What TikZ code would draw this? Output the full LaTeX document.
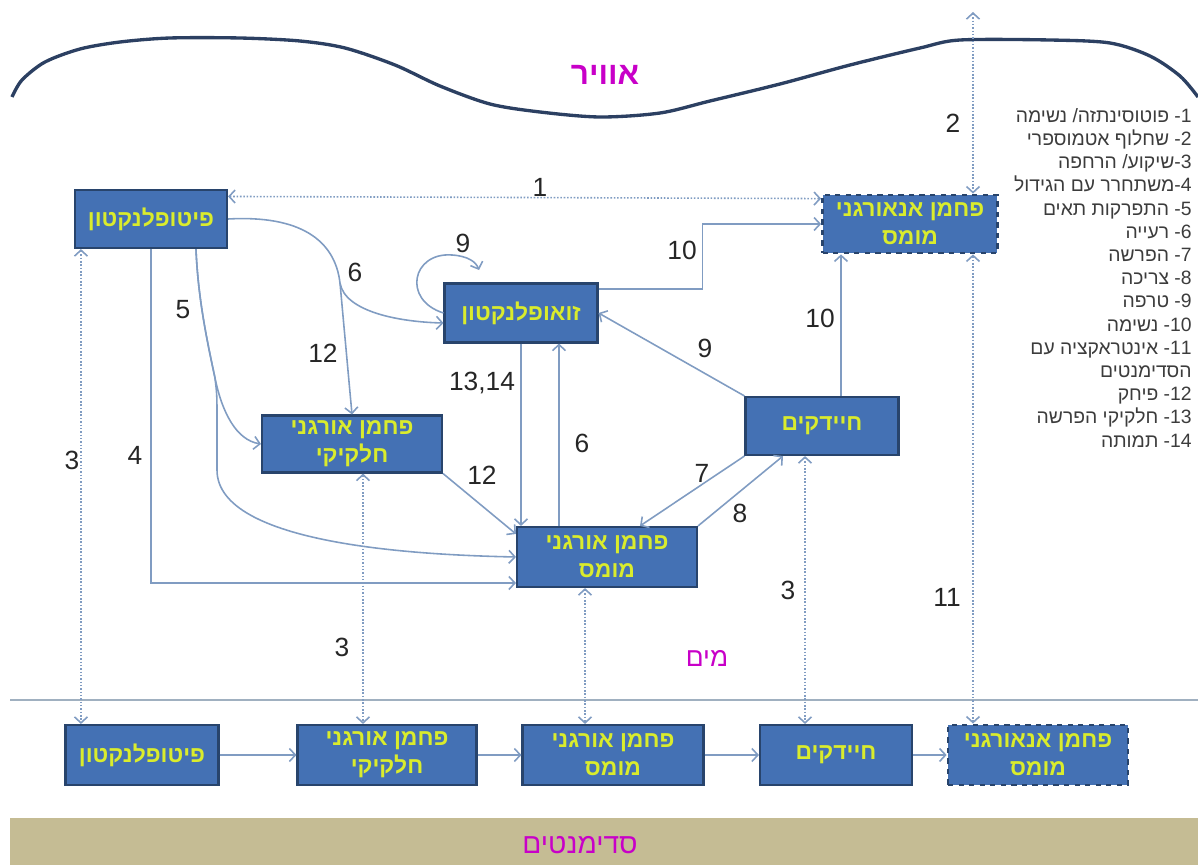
\documentclass[tikz,border=0pt]{standalone}
\usepackage{fontspec}
\setmainfont{Liberation Sans}
\newfontfamily\hebfont[Script=Hebrew]{Liberation Sans}
\TeXXeTstate=1
\usetikzlibrary{arrows.meta, calc, positioning}
\definecolor{boxblue}{RGB}{68,113,180}
\definecolor{boxedge}{RGB}{40,68,108}
\definecolor{boxtext}{RGB}{218,236,44}
\definecolor{linkblue}{RGB}{128,156,194}
\definecolor{wavenavy}{RGB}{44,64,98}
\definecolor{zonemagenta}{RGB}{200,0,200}
\definecolor{sandbrown}{RGB}{197,188,148}
\definecolor{waterline}{RGB}{160,176,192}
\definecolor{legendgray}{RGB}{60,60,60}
\tikzset{
  poolbox/.style={draw=boxedge, line width=1.2pt, fill=boxblue, text=boxtext,
    font=\hebfont\bfseries\fontsize{13}{16}\selectfont, align=center, inner sep=0pt},
  dicbox/.style={poolbox, dashed, line width=1.6pt},
  flowline/.style={draw=linkblue, line width=0.9pt, ->},
  dotline/.style={draw=linkblue, line width=0.9pt, densely dotted, <->},
  numlabel/.style={font=\fontsize{15}{15}\selectfont, text=black!85},
  zonelabel/.style={text=zonemagenta, font=\hebfont\fontsize{15}{15}\selectfont},
  legendtext/.style={text=legendgray, align=right, inner sep=0pt,
    font=\hebfont\fontsize{11}{13.2}\selectfont}
}

\begin{document}
\begin{tikzpicture}[x=0.02cm, y=-0.02cm, >={Straight Barb[length=1.2mm, width=2.6mm]}]
        \useasboundingbox (0,0) rectangle (1198,865);

        % surroundings
        \fill[sandbrown] (10,818) rectangle (1198,865);
        \draw[waterline, line width=1.2pt] (10,700) -- (1198,700);
        \draw[wavenavy, line width=1.9pt] plot[smooth] coordinates {(12,97) (22,80) (45,62) (80,49) (120,42) (170,38) (240,38) (300,41) (345,48) (395,65) (440,86) (490,104) (540,112) (600,117) (660,113) (710,101) (780,84) (850,65) (920,48) (960,40) (1050,40) (1110,43) (1150,56) (1180,76) (1198,97)};
        \node[zonelabel, font=\hebfont\bfseries\fontsize{18}{18}\selectfont] (air) at (605,75) {\beginR אוויר\endR};
        \node[zonelabel] (water) at (707,658) {\beginR מים\endR};
        \node[zonelabel, font=\hebfont\fontsize{16}{16}\selectfont] (sediment) at (580,845) {\beginR סדימנטים\endR};

        % pools in the water
        \node[poolbox, minimum width=3.04cm, minimum height=1.16cm] (phyto) at (151,219) {\beginR פיטופלנקטון\endR};
        \node[poolbox, minimum width=3.06cm, minimum height=1.18cm] (zoo) at (521,313) {\beginR זואופלנקטון\endR};
        \node[dicbox, minimum width=3.5cm, minimum height=1.16cm] (dict) at (910,224) {\beginR פחמן אנאורגני\endR\\\beginR מומס\endR};
        \node[poolbox, minimum width=3.6cm, minimum height=1.14cm] (poct) at (352,444) {\beginR פחמן אורגני\endR\\\beginR חלקיקי\endR};
        \node[poolbox, minimum width=3.6cm, minimum height=1.2cm] (doct) at (607,557) {\beginR פחמן אורגני\endR\\\beginR מומס\endR};
        \node[poolbox, minimum width=3.06cm, minimum height=1.16cm] (bact) at (822,426) {\beginR חיידקים\endR};

        % pools in the sediment
        \node[poolbox, minimum width=3.06cm, minimum height=1.2cm] (phytob) at (142,755) {\beginR פיטופלנקטון\endR};
        \node[poolbox, minimum width=3.58cm, minimum height=1.2cm] (pocb) at (387,755) {\beginR פחמן אורגני\endR\\\beginR חלקיקי\endR};
        \node[poolbox, minimum width=3.62cm, minimum height=1.2cm] (docb) at (613,755) {\beginR פחמן אורגני\endR\\\beginR מומס\endR};
        \node[poolbox, minimum width=3.04cm, minimum height=1.2cm] (bactb) at (836,755) {\beginR חיידקים\endR};
        \node[dicbox, minimum width=3.6cm, minimum height=1.2cm] (dicb) at (1038,755) {\beginR פחמן אנאורגני\endR\\\beginR מומס\endR};

        \draw[flowline] (phytob) -- (pocb);
        \draw[flowline] (pocb) -- (docb);
        \draw[flowline] (docb) -- (bactb);
        \draw[flowline] (bactb) -- (dicb);

        % exchanges
        \coordinate (skytop) at (973,12);
        \coordinate (c3a) at ([xshift=0.14cm]phyto.south west);
        \coordinate (c3b) at ([xshift=0.22cm]poct.south);
        \coordinate (c3c) at ([xshift=-0.44cm]doct.south);
        \coordinate (c3d) at ([xshift=-0.34cm]bact.south);
        \draw[dotline] ([yshift=-0.15cm]phyto.north east) -- ([yshift=-0.1cm]dict.north west);
        \draw[dotline] (skytop) -- (skytop |- dict.north);
        \draw[dotline] (skytop |- dict.south) -- (skytop |- dicb.north);
        \draw[dotline] (c3a) -- (c3a |- phytob.north);
        \draw[dotline] (c3b) -- (c3b |- pocb.north);
        \draw[dotline] (c3c) -- (c3c |- docb.north);
        \draw[dotline] (c3d) -- (c3d |- bactb.north);

        % flows
        \coordinate (p5) at ([xshift=0.9cm]phyto.south);
        \coordinate (s5) at (215,378);
        \coordinate (k6) at (340,283);
        \coordinate (z9) at (479,270);
        \coordinate (c6) at ([xshift=0.76cm]zoo.south);
        \coordinate (c10) at ([xshift=0.38cm]bact.north);
        \draw[flowline] (phyto.south) |- ([yshift=-0.52cm]doct.west);
        \draw[flowline] (p5) .. controls (198,300) and (208,345) .. (s5) .. controls (222,412) and (236,440) .. (poct.west);
        \draw[flowline] (p5) .. controls (198,300) and (208,345) .. (s5) .. controls (217,395) .. (217,420) -- (217,470) .. controls (217,545) and (420,555) .. (doct.west);
        \draw[flowline] (phyto.east) .. controls (300,215) and (335,240) .. (k6) .. controls (345,312) and (400,322) .. ([yshift=-0.2cm]zoo.west);
        \draw[flowline] (k6) -- (poct.north);
        \draw[flowline] (zoo.west) .. controls (402,300) and (412,252) .. (452,255) .. controls (468,256) and (476,262) .. (z9);
        \draw[flowline] ([yshift=0.48cm]zoo.east) -- ++(104,0) |- (dict.west);
        \draw[flowline] (c10) -- (c10 |- dict.south);
        \draw[flowline] (bact.north west) -- (zoo.east);
        \draw[flowline] (zoo.south) -- (zoo.south |- doct.north);
        \draw[flowline] (c6 |- doct.north) -- (c6);
        \draw[flowline] (poct.south east) -- ([yshift=-0.16cm]doct.north west);
        \draw[flowline] (bact.south west) -- ([xshift=0.66cm]doct.north);
        \draw[flowline] (doct.north east) -- ([xshift=-0.78cm]bact.south);

        % process numbers
        \node[numlabel] (n1) at (540,187) {1};
        \node[numlabel] (n2) at (953,123) {2};
        \node[numlabel] (n3a) at (72,460) {3};
        \node[numlabel] (n3b) at (342,647) {3};
        \node[numlabel] (n3c) at (788,590) {3};
        \node[numlabel] (n4) at (135,455) {4};
        \node[numlabel] (n5) at (183,310) {5};
        \node[numlabel] (n6a) at (355,272) {6};
        \node[numlabel] (n6b) at (582,443) {6};
        \node[numlabel] (n7) at (702,473) {7};
        \node[numlabel] (n8) at (740,513) {8};
        \node[numlabel] (n9a) at (463,243) {9};
        \node[numlabel] (n9b) at (705,348) {9};
        \node[numlabel] (n10a) at (682,250) {10};
        \node[numlabel] (n10b) at (820,318) {10};
        \node[numlabel] (n11) at (947,597) {11};
        \node[numlabel] (n12a) at (323,353) {12};
        \node[numlabel] (n12b) at (482,475) {12};
        \node[numlabel] (n1314) at (482,383) {13,14};

        % legend
        \node[legendtext, anchor=north east] (legend) at (1192,108) {%
          \beginR 1- פוטוסינתזה/ נשימה\endR\\
          \beginR 2- שחלוף אטמוספרי\endR\\
          \beginR 3-שיקוע/ הרחפה\endR\\
          \beginR 4-משתחרר עם הגידול\endR\\
          \beginR 5- התפרקות תאים\endR\\
          \beginR 6- רעייה\endR\\
          \beginR 7- הפרשה\endR\\
          \beginR 8- צריכה\endR\\
          \beginR 9- טרפה\endR\\
          \beginR 10- נשימה\endR\\
          \beginR 11- אינטראקציה עם\endR\\
          \beginR הסדימנטים\endR\\
          \beginR 12- פיחק\endR\\
          \beginR 13- חלקיקי הפרשה\endR\\
          \beginR 14- תמותה\endR};
\end{tikzpicture}
\end{document}
